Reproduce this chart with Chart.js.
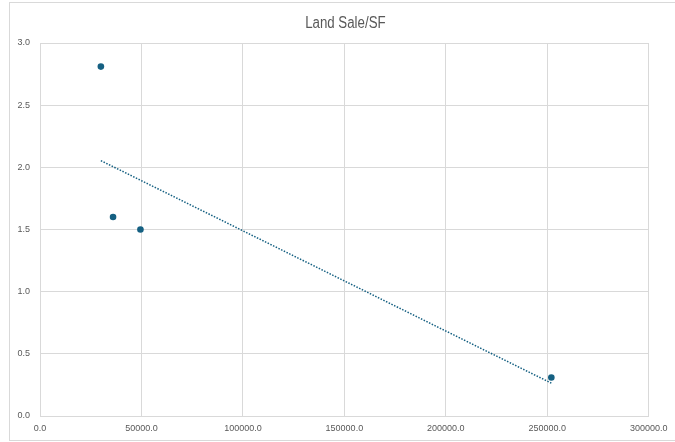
<!DOCTYPE html>
<html>
<head>
<meta charset="utf-8">
<script src="https://cdn.jsdelivr.net/npm/chart.js@4/dist/chart.umd.min.js"></script>
<style>
  html, body { margin: 0; padding: 0; background: #ffffff; }
  #wrap { width: 675px; height: 442px; position: relative; }
</style>
</head>
<body>
<div id="wrap"><canvas id="chart" width="675" height="442"></canvas></div>
<script>
// Land sales: lot size (SF) vs. price per SF
const chartTitle = 'Land Sale/SF';
const lotSizes = [30000, 36000, 49500, 252000];
const pricePerSF = [2.81, 1.60, 1.50, 0.31];
const xTicks = [0, 50000, 100000, 150000, 200000, 250000, 300000];
const yTicks = [0, 0.5, 1.0, 1.5, 2.0, 2.5, 3.0];

const ACCENT = '#156082';
const GRID = '#d9d9d9';
const TEXT = '#595959';

// Least-squares linear trend over the sales
function linearTrend(xs, ys) {
  const n = xs.length;
  const mx = xs.reduce((a, b) => a + b, 0) / n;
  const my = ys.reduce((a, b) => a + b, 0) / n;
  let sxy = 0, sxx = 0;
  for (let i = 0; i < n; i++) {
    sxy += (xs[i] - mx) * (ys[i] - my);
    sxx += (xs[i] - mx) * (xs[i] - mx);
  }
  const slope = sxy / sxx;
  const intercept = my - slope * mx;
  const x0 = Math.min(...xs), x1 = Math.max(...xs);
  return [{ x: x0, y: intercept + slope * x0 }, { x: x1, y: intercept + slope * x1 }];
}

const points = lotSizes.map((x, i) => ({ x, y: pricePerSF[i] }));
const trend = linearTrend(lotSizes, pricePerSF);

// Thin frame around the chart
const frame = {
  id: 'frame',
  beforeDraw(chart) {
    const ctx = chart.ctx;
    ctx.save();
    ctx.fillStyle = '#ffffff';
    ctx.fillRect(0, 0, chart.width, chart.height);
    ctx.strokeStyle = GRID;
    ctx.lineWidth = 1;
    ctx.strokeRect(9.5, 2.5, 700, 438);
    ctx.restore();
  }
};

// Condensed title centred over the plot area
const narrowTitle = {
  id: 'narrowTitle',
  afterDraw(chart) {
    const ctx = chart.ctx;
    const area = chart.chartArea;
    const cx = (area.left + area.right) / 2 + 1;
    ctx.save();
    ctx.translate(cx, 28.3);
    ctx.scale(0.83, 1);
    ctx.font = "16px 'Liberation Sans', Arial, sans-serif";
    ctx.fillStyle = TEXT;
    ctx.textAlign = 'center';
    ctx.textBaseline = 'alphabetic';
    ctx.fillText(chartTitle, 0, 0);
    ctx.restore();
  }
};

new Chart(document.getElementById('chart'), {
  type: 'scatter',
  data: {
    datasets: [
      {
        label: 'Price/SF',
        data: points,
        backgroundColor: ACCENT,
        borderColor: ACCENT,
        pointRadius: 3.3,
        pointBorderWidth: 0,
        order: 1
      },
      {
        label: 'Linear (Price/SF)',
        type: 'line',
        data: trend,
        borderColor: ACCENT,
        borderWidth: 1.5,
        borderDash: [1.5, 1.5],
        pointRadius: 0,
        fill: false,
        order: 2
      }
    ]
  },
  options: {
    responsive: false,
    animation: false,
    layout: { padding: { left: 10, right: 25, top: 43, bottom: 0 } },
    plugins: {
      legend: { display: false },
      tooltip: { enabled: false },
      title: { display: false }
    },
    scales: {
      x: {
        type: 'linear',
        min: 0,
        max: 300000,
        afterBuildTicks(scale) { scale.ticks = xTicks.map(v => ({ value: v })); },
        afterFit(scale) { scale.height = 26; },
        ticks: {
          color: TEXT,
          padding: 7.5,
          maxRotation: 0,
          font: { family: "'Liberation Sans', Arial, sans-serif", size: 9 },
          callback: v => Number(v).toFixed(1)
        },
        grid: { color: GRID, lineWidth: 1, drawTicks: false },
        border: { color: GRID, width: 1 }
      },
      y: {
        type: 'linear',
        min: 0,
        max: 3,
        afterBuildTicks(scale) { scale.ticks = yTicks.map(v => ({ value: v })); },
        afterFit(scale) { scale.width = 30; },
        ticks: {
          color: TEXT,
          padding: 10,
          font: { family: "'Liberation Sans', Arial, sans-serif", size: 9 },
          callback: v => Number(v).toFixed(1)
        },
        grid: { color: GRID, lineWidth: 1, drawTicks: false },
        border: { color: GRID, width: 1 }
      }
    }
  },
  plugins: [frame, narrowTitle]
});
</script>
</body>
</html>
